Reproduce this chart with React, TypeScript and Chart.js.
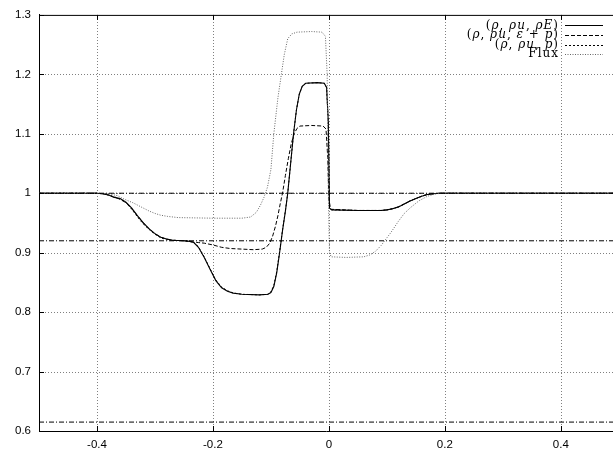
import React, { useEffect, useRef } from "react";
import { Chart, registerables } from "chart.js";
Chart.register(...registerables);

// ---- axes ----
const xMin = -0.5;
const xMax = 0.49;
const yMin = 0.6;
const yMax = 1.3;
const xTicks = [-0.4, -0.2, 0, 0.2, 0.4];
const yTicks = [0.6, 0.7, 0.8, 0.9, 1.0, 1.1, 1.2, 1.3];

// ---- horizontal reference levels (dash-dot) ----
const refLevels = [1.0, 0.92, 0.615];
const refX = [-0.5, 0.5];

// ---- legend labels (text, italic flag) ----
const labelRhoE: [string, boolean][] = [["(", false], ["ρ", true], [", ", false], ["ρu", true], [", ", false], ["ρE", true], [")", false]];
const labelEps: [string, boolean][] = [["(", false], ["ρ", true], [", ", false], ["ρu", true], [", ", false], ["ε", true], [" + ", false], ["p", true], [")", false]];
const labelP: [string, boolean][] = [["(", false], ["ρ", true], [", ", false], ["ρu", true], [", ", false], ["p", true], [")", false]];
const labelFlux: [string, boolean][] = [["Flux", false]];

// ---- series: (rho, rho u, rho E) ----
const solidX = [-0.5, -0.4, -0.39, -0.38, -0.37, -0.36, -0.35, -0.34, -0.33, -0.32, -0.31, -0.3, -0.29, -0.28, -0.27, -0.25, -0.24, -0.233, -0.225, -0.215, -0.205, -0.195, -0.185, -0.175, -0.165, -0.15, -0.12, -0.105, -0.1, -0.095, -0.09, -0.085, -0.08, -0.075, -0.071, -0.066, -0.061, -0.056, -0.051, -0.046, -0.04, -0.02, -0.008, -0.004, -0.001, 0.001, 0.005, 0.05, 0.09, 0.1, 0.11, 0.12, 0.13, 0.14, 0.15, 0.16, 0.17, 0.18, 0.19, 0.3, 0.5];
const solidY = [1.0, 1.0, 0.999, 0.997, 0.993, 0.991, 0.985, 0.975, 0.962, 0.95, 0.94, 0.932, 0.926, 0.923, 0.921, 0.92, 0.919, 0.917, 0.909, 0.892, 0.872, 0.853, 0.841, 0.835, 0.832, 0.83, 0.829, 0.83, 0.833, 0.843, 0.866, 0.9, 0.937, 0.97, 1.0, 1.05, 1.1, 1.14, 1.167, 1.18, 1.185, 1.186, 1.185, 1.178, 1.12, 0.975, 0.972, 0.971, 0.971, 0.972, 0.974, 0.977, 0.982, 0.987, 0.991, 0.995, 0.998, 0.999, 1.0, 1.0, 1.0];

// ---- series: (rho, rho u, epsilon + p) ----
const dashX = [-0.5, -0.4, -0.39, -0.38, -0.37, -0.36, -0.35, -0.34, -0.33, -0.32, -0.31, -0.3, -0.29, -0.28, -0.27, -0.25, -0.24, -0.233, -0.225, -0.215, -0.2, -0.185, -0.17, -0.15, -0.13, -0.115, -0.108, -0.102, -0.097, -0.092, -0.088, -0.084, -0.08, -0.075, -0.07, -0.065, -0.06, -0.055, -0.05, -0.03, -0.01, -0.005, -0.002, 0.0, 0.003, 0.05, 0.09, 0.1, 0.11, 0.12, 0.13, 0.14, 0.15, 0.16, 0.17, 0.18, 0.19, 0.3, 0.5];
const dashY = [1.0, 1.0, 0.999, 0.997, 0.993, 0.99, 0.984, 0.974, 0.962, 0.95, 0.94, 0.932, 0.926, 0.923, 0.921, 0.92, 0.919, 0.918, 0.917, 0.916, 0.913, 0.909, 0.907, 0.906, 0.905, 0.906, 0.909, 0.916, 0.928, 0.945, 0.962, 0.982, 1.0, 1.03, 1.058, 1.083, 1.1, 1.109, 1.113, 1.114, 1.113, 1.108, 1.06, 0.99, 0.973, 0.971, 0.971, 0.972, 0.974, 0.977, 0.982, 0.987, 0.991, 0.995, 0.998, 0.999, 1.0, 1.0, 1.0];

// ---- series: (rho, rho u, p) ----
const dotX = [-0.5, -0.4, -0.39, -0.38, -0.37, -0.36, -0.35, -0.34, -0.33, -0.32, -0.31, -0.3, -0.29, -0.28, -0.27, -0.25, -0.24, -0.233, -0.225, -0.215, -0.205, -0.195, -0.185, -0.175, -0.165, -0.15, -0.12, -0.105, -0.1, -0.095, -0.09, -0.085, -0.08, -0.075, -0.071, -0.066, -0.061, -0.056, -0.051, -0.046, -0.04, -0.02, -0.008, -0.004, -0.001, 0.001, 0.005, 0.05, 0.09, 0.1, 0.11, 0.12, 0.13, 0.14, 0.15, 0.16, 0.17, 0.18, 0.19, 0.3, 0.5];
const dotY = [1.0, 1.0, 0.999, 0.997, 0.994, 0.99, 0.984, 0.973, 0.96, 0.948, 0.939, 0.931, 0.925, 0.922, 0.921, 0.92, 0.919, 0.917, 0.91, 0.893, 0.873, 0.854, 0.842, 0.836, 0.832, 0.83, 0.829, 0.83, 0.834, 0.845, 0.868, 0.902, 0.938, 0.971, 1.0, 1.05, 1.1, 1.14, 1.167, 1.18, 1.185, 1.186, 1.185, 1.178, 1.12, 0.975, 0.972, 0.971, 0.971, 0.972, 0.974, 0.977, 0.982, 0.987, 0.991, 0.995, 0.998, 0.999, 1.0, 1.0, 1.0];

// ---- series: Flux ----
const fluxX = [-0.5, -0.4, -0.38, -0.365, -0.353, -0.338, -0.324, -0.31, -0.3, -0.29, -0.278, -0.26, -0.2, -0.15, -0.135, -0.125, -0.118, -0.112, -0.106, -0.1, -0.095, -0.088, -0.082, -0.077, -0.071, -0.064, -0.055, -0.03, -0.012, -0.006, -0.003, -0.001, 0.001, 0.004, 0.03, 0.06, 0.07, 0.08, 0.09, 0.1, 0.107, 0.12, 0.13, 0.141, 0.155, 0.17, 0.185, 0.195, 0.5];
const fluxY = [1.0, 1.0, 0.999, 0.996, 0.99, 0.984, 0.977, 0.97, 0.966, 0.963, 0.961, 0.959, 0.958, 0.958, 0.96, 0.968, 0.98, 0.993, 1.01, 1.04, 1.1, 1.16, 1.2, 1.233, 1.26, 1.268, 1.271, 1.272, 1.271, 1.264, 1.2, 1.0, 0.9, 0.893, 0.892, 0.893, 0.896, 0.902, 0.912, 0.925, 0.934, 0.953, 0.966, 0.976, 0.987, 0.995, 0.999, 1.0, 1.0];

const pts = (xs: number[], ys: number[]) => xs.map((x, i) => ({ x, y: ys[i] }));
const fmt = (v: number) => String(Math.round(v * 10) / 10);

const SERIF = '"DejaVu Serif", "Liberation Serif", serif';
const SANS = '"Liberation Sans", Arial, sans-serif';

const gridPlugin = {
  id: "gnuGrid",
  beforeDatasetsDraw(chart: any) {
    const { ctx, chartArea: a, scales } = chart;
    const xs = scales.x, ys = scales.y;
    ctx.save();
    ctx.strokeStyle = "#808080";
    ctx.lineWidth = 1;
    ctx.setLineDash([1, 2]);
    ctx.beginPath();
    xTicks.forEach((v) => {
      const px = Math.round(xs.getPixelForValue(v)) + 0.5;
      ctx.moveTo(px, a.bottom);
      ctx.lineTo(px, a.top);
    });
    yTicks.forEach((v) => {
      if (v <= yMin || v >= yMax) return;
      const py = Math.round(ys.getPixelForValue(v)) + 0.5;
      ctx.moveTo(a.left, py);
      ctx.lineTo(a.right, py);
    });
    ctx.stroke();
    ctx.restore();
  },
};

const framePlugin = {
  id: "gnuFrame",
  afterDatasetsDraw(chart: any) {
    const { ctx, chartArea: a, scales } = chart;
    const xs = scales.x, ys = scales.y;
    ctx.save();
    ctx.strokeStyle = "#000";
    ctx.lineWidth = 1;
    ctx.setLineDash([]);
    ctx.beginPath();
    ctx.moveTo(a.left, a.top + 0.5);
    ctx.lineTo(a.right, a.top + 0.5);
    xTicks.forEach((v) => {
      const px = Math.round(xs.getPixelForValue(v)) + 0.5;
      ctx.moveTo(px, a.bottom);
      ctx.lineTo(px, a.bottom - 5);
      ctx.moveTo(px, a.top);
      ctx.lineTo(px, a.top + 5);
    });
    yTicks.forEach((v) => {
      const py = Math.round(ys.getPixelForValue(v)) + 0.5;
      ctx.moveTo(a.left, py);
      ctx.lineTo(a.left + 5, py);
    });
    ctx.stroke();
    ctx.restore();
  },
};

const legendPlugin = {
  id: "texLegend",
  afterDraw(chart: any) {
    const { ctx, chartArea: a } = chart;
    const items = chart.data.datasets
      .filter((d: any) => d.legendParts)
      .sort((p: any, q: any) => p.legendOrder - q.legendOrder);
    const right = a.right - 54;
    const lx0 = a.right - 48;
    const lx1 = a.right - 10;
    const y0 = a.top + 10.5;
    const dy = 9.6;
    items.forEach((ds: any, i: number) => {
      const y = y0 + i * dy;
      ctx.save();
      ctx.fillStyle = "#000";
      ctx.textBaseline = "middle";
      ctx.textAlign = "left";
      try { (ctx as any).letterSpacing = "1px"; } catch (e) {}
      const parts = ds.legendParts as [string, boolean][];
      const fonts = parts.map(([, it]) => (it ? "italic " : "") + "12px " + SERIF);
      let total = 0;
      const widths = parts.map(([t], k) => {
        ctx.font = fonts[k];
        const w = ctx.measureText(t).width;
        total += w;
        return w;
      });
      let x = right - total;
      parts.forEach(([t], k) => {
        ctx.font = fonts[k];
        ctx.fillText(t, x, y);
        x += widths[k];
      });
      ctx.strokeStyle = ds.borderColor;
      ctx.lineWidth = ds.borderWidth;
      ctx.setLineDash(ds.borderDash || []);
      ctx.beginPath();
      const yy = Math.round(y) + 0.5;
      ctx.moveTo(lx0, yy);
      ctx.lineTo(lx1, yy);
      ctx.stroke();
      ctx.restore();
    });
  },
};

export default function App() {
  const ref = useRef<HTMLCanvasElement | null>(null);
  useEffect(() => {
    if (!ref.current) return;
    const refSets = refLevels.map((lv) => ({
      data: refX.map((x) => ({ x, y: lv })),
      borderColor: "#000",
      borderWidth: 1,
      borderDash: [5, 2, 1, 2],
      pointRadius: 0,
      fill: false,
    }));
    const chart = new Chart(ref.current, {
      type: "line",
      data: {
        datasets: [
          ...refSets,
          {
            data: pts(fluxX, fluxY),
            borderColor: "#666",
            borderWidth: 1,
            borderDash: [1, 1.5],
            pointRadius: 0,
            fill: false,
            legendParts: labelFlux,
            legendOrder: 3,
          },
          {
            data: pts(dotX, dotY),
            borderColor: "#000",
            borderWidth: 1,
            borderDash: [2, 2],
            pointRadius: 0,
            fill: false,
            legendParts: labelP,
            legendOrder: 2,
          },
          {
            data: pts(dashX, dashY),
            borderColor: "#000",
            borderWidth: 1,
            borderDash: [4, 2],
            pointRadius: 0,
            fill: false,
            legendParts: labelEps,
            legendOrder: 1,
          },
          {
            data: pts(solidX, solidY),
            borderColor: "#000",
            borderWidth: 1.1,
            pointRadius: 0,
            fill: false,
            legendParts: labelRhoE,
            legendOrder: 0,
          },
        ] as any,
      },
      options: {
        animation: false,
        responsive: false,
        maintainAspectRatio: false,
        layout: { padding: { top: 13, right: 0, left: 0, bottom: 0 } },
        plugins: { legend: { display: false }, tooltip: { enabled: false } },
        elements: { line: { tension: 0 } },
        scales: {
          x: {
            type: "linear",
            min: xMin,
            max: xMax,
            afterBuildTicks: (s: any) => {
              s.ticks = xTicks.map((v) => ({ value: v }));
            },
            afterFit: (s: any) => {
              s.height = 21;
            },
            ticks: {
              callback: (v: any) => fmt(Number(v)),
              color: "#000",
              font: { family: SANS, size: 11.5 },
              padding: 7,
              maxRotation: 0,
            },
            grid: { display: false, drawTicks: false },
            border: { display: true, color: "#000", width: 1 },
          },
          y: {
            type: "linear",
            min: yMin,
            max: yMax,
            afterBuildTicks: (s: any) => {
              s.ticks = yTicks.map((v) => ({ value: v }));
            },
            afterFit: (s: any) => {
              s.width = 39;
            },
            ticks: {
              callback: (v: any) => fmt(Number(v)),
              color: "#000",
              font: { family: SANS, size: 11.5 },
              padding: 8,
            },
            grid: { display: false, drawTicks: false },
            border: { display: true, color: "#000", width: 1 },
          },
        },
      },
      plugins: [gridPlugin, framePlugin, legendPlugin],
    } as any);
    return () => chart.destroy();
  }, []);
  return (
    <div style={{ position: "absolute", left: 0, top: 0, width: 613, height: 452, background: "#fff" }}>
      <canvas ref={ref} width={613} height={452} />
    </div>
  );
}
